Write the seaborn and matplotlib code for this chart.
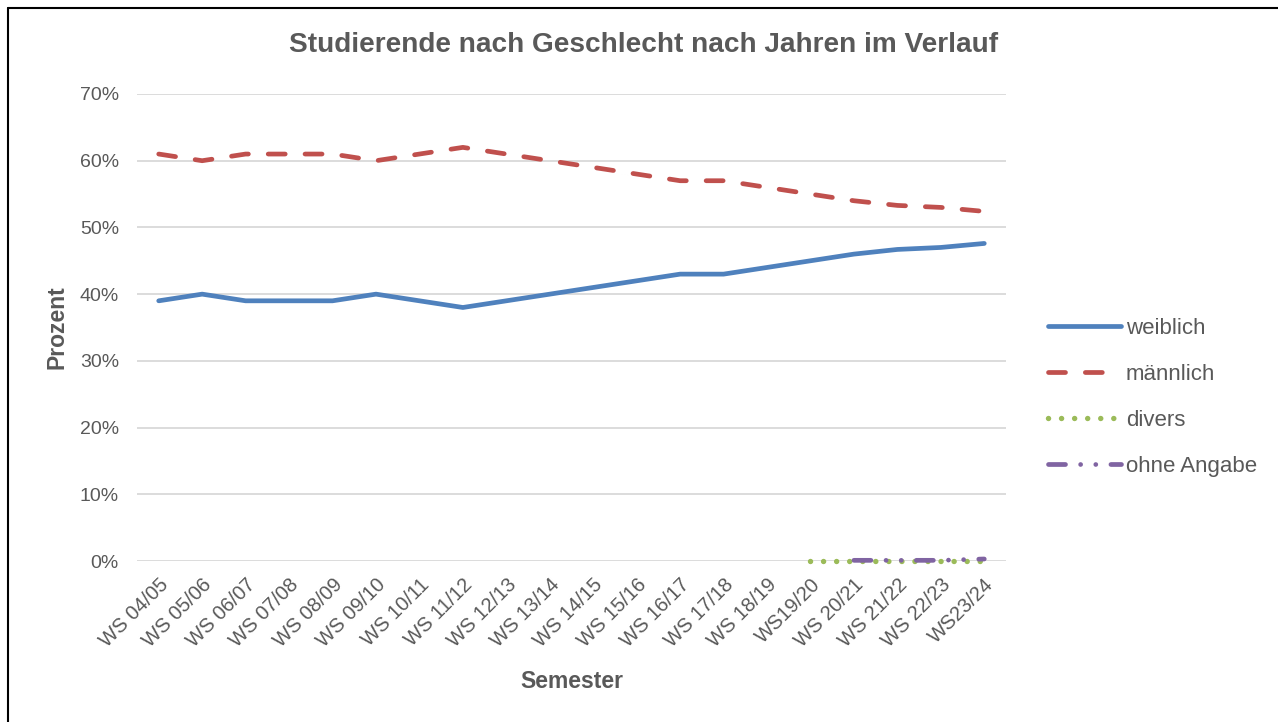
import numpy as np
import pandas as pd
import matplotlib
matplotlib.use("Agg")
import matplotlib.pyplot as plt
import seaborn as sns
from matplotlib.lines import Line2D

semester = ["WS 04/05", "WS 05/06", "WS 06/07", "WS 07/08", "WS 08/09", "WS 09/10",
            "WS 10/11", "WS 11/12", "WS 12/13", "WS 13/14", "WS 14/15", "WS 15/16",
            "WS 16/17", "WS 17/18", "WS 18/19", "WS19/20", "WS 20/21", "WS 21/22",
            "WS 22/23", "WS23/24"]
weiblich = [39, 40, 39, 39, 39, 40, 39, 38, 39, 40, 41, 42, 43, 43, 44, 45, 46, 46.7, 47, 47.6]
maennlich = [61, 60, 61, 61, 61, 60, 61, 62, 61, 60, 59, 58, 57, 57, 56, 55, 54, 53.3, 53, 52.4]
divers = [None] * 15 + [0.05, 0.05, 0.05, 0.05, 0.05]
ohne_angabe = [None] * 16 + [0.1, 0.1, 0.1, 0.3]

series = ["weiblich", "männlich", "divers", "ohne Angabe"]
colors = ["#4F81BD", "#C0504D", "#9BBB59", "#8064A2"]
styles = ["-", (0, (3.6, 4.2)), (0, (0.01, 2.4)), (0, (3.6, 3.2, 0.01, 3.2, 0.01, 3.2))]
widths = [3.4, 3.4, 3.9, 3.4]

df = pd.DataFrame({"Semester": semester, "weiblich": weiblich, "männlich": maennlich,
                   "divers": divers, "ohne Angabe": ohne_angabe})
df["pos"] = np.arange(len(semester))
df = df.astype({"divers": float, "ohne Angabe": float})

sns.set_style("white")
plt.rcParams["font.family"] = ["Liberation Sans", "DejaVu Sans"]
grey = "#595959"

fig = plt.figure(figsize=(12.78, 7.22), dpi=100)
ax = fig.add_axes([137 / 1278, 1 - 561 / 722, (1006 - 137) / 1278, (561 - 94) / 722])

handles = []
for name, col, ls, lw in zip(series, colors, styles, widths):
    sub = df.dropna(subset=[name])
    sns.lineplot(x=sub["pos"], y=sub[name] / 100, ax=ax, color=col, linewidth=lw,
                 linestyle=ls, dash_capstyle="round", solid_capstyle="round",
                 zorder=3, clip_on=False)
    handles.append(Line2D([], [], color=col, linewidth=lw, linestyle=ls,
                          dash_capstyle="round", solid_capstyle="round"))

ax.set_xlim(-0.5, len(semester) - 0.5)
ax.set_ylim(0, 0.7)
ax.set_yticks(np.arange(0, 0.71, 0.1))
ax.set_yticklabels([f"{int(round(v * 100))}%" for v in np.arange(0, 0.71, 0.1)],
                   fontsize=14, color=grey)
ax.set_xticks(df["pos"])
ax.set_xticklabels(semester, rotation=45, ha="right", rotation_mode="anchor",
                   fontsize=14.5, color=grey)
ax.tick_params(axis="y", length=0, pad=13)
ax.tick_params(axis="x", length=0, pad=10)
ax.grid(axis="y", color="#D9D9D9", linewidth=1.3, zorder=0)
for s in ax.spines.values():
    s.set_visible(False)

ax.set_xlabel("Semester", fontsize=16.5, fontweight="bold", color=grey, labelpad=14)
ax.set_ylabel("Prozent", fontsize=16.5, fontweight="bold", color=grey, labelpad=8)

fig.text(644 / 1278, 1 - 45 / 722, "Studierende nach Geschlecht nach Jahren im Verlauf",
         ha="center", va="center", fontsize=20.2, fontweight="bold", color=grey)

leg = fig.legend(handles, series, loc="upper left", bbox_to_anchor=(1028 / 1278, 1 - 298 / 722),
                 frameon=False, fontsize=16, handlelength=3.3, handletextpad=0.2,
                 labelspacing=1.12, labelcolor=grey)

# black frame of the chart object (left and top edges visible)
fig.add_artist(Line2D([7.5 / 1278, 7.5 / 1278], [0, 1 - 8 / 722], color="black",
                      linewidth=1.5, transform=fig.transFigure))
fig.add_artist(Line2D([7.5 / 1278, 1.01], [1 - 8 / 722, 1 - 8 / 722], color="black",
                      linewidth=1.5, transform=fig.transFigure))

fig.savefig("out.png", dpi=100)
